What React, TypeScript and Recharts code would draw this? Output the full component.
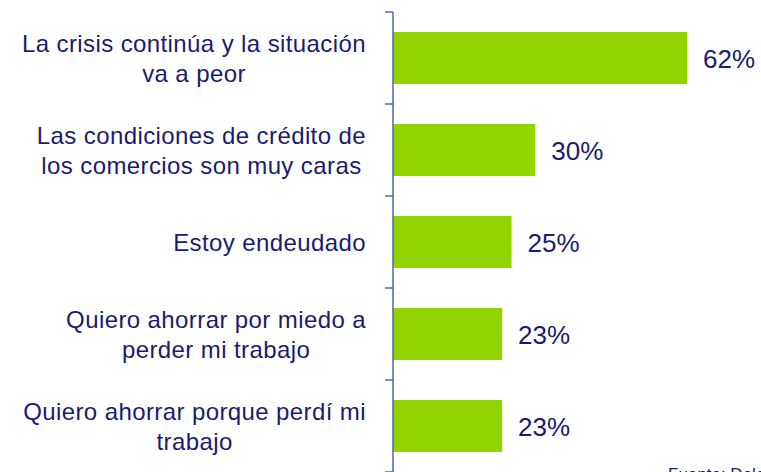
import React from "react";
import { BarChart, Bar, XAxis, YAxis, LabelList } from "recharts";

const categories = [
  "La crisis continúa y la situación\nva a peor",
  "Las condiciones de crédito de\nlos comercios son muy caras",
  "Estoy endeudado",
  "Quiero ahorrar por miedo a\nperder mi trabajo",
  "Quiero ahorrar porque perdí mi\ntrabajo",
];
const values = [62, 30, 25, 23, 23];
const valueLabels = ["62%", "30%", "25%", "23%", "23%"];
const sourceText = "Fuente: Deloitte";

const data = categories.map((c, i) => ({ name: c, value: values[i], label: valueLabels[i] }));

const TEXT = "#1b1b70";
const GREEN = "#92d400";
const AXIS = "#4e67a6";
const FONT = "Liberation Sans, Arial, sans-serif";
const LABEL_SIZE = 24;
const LSP = 0.4;

let ctx: CanvasRenderingContext2D | null = null;
function measure(s: string): number {
  if (!ctx) {
    const c = document.createElement("canvas");
    ctx = c.getContext("2d");
  }
  if (!ctx) return s.length * 12;
  ctx.font = `${LABEL_SIZE}px "Liberation Sans"`;
  return ctx.measureText(s).width + s.length * LSP;
}

const CatTick = (props: any) => {
  const { x, y, payload, index, visibleTicksCount } = props;
  const lines: string[] = String(payload.value).split("\n");
  const maxW = Math.max(...lines.map(measure));
  const right = x - 27;
  const cx = right - maxW / 2;
  const half = 46;
  return (
    <g>
      <line x1={x - 8} x2={x} y1={y - half} y2={y - half} stroke={AXIS} strokeWidth={1.5} />
      {index === (visibleTicksCount ?? 5) - 1 && (
        <line x1={x - 8} x2={x} y1={y + half} y2={y + half} stroke={AXIS} strokeWidth={1.5} />
      )}
      {lines.map((l, i) => (
        <text
          key={i}
          x={cx}
          y={y + (i - (lines.length - 1) / 2) * 30 + 8.5}
          textAnchor="middle"
          fill={TEXT}
          fontSize={LABEL_SIZE}
          fontFamily={FONT}
          style={{ letterSpacing: `${LSP}px` }}
        >
          {l}
        </text>
      ))}
    </g>
  );
};

const ValueLabel = (props: any) => {
  const { x, y, width, height, value } = props;
  return (
    <text
      x={x + width + 16}
      y={y + height / 2 + 10}
      fill={TEXT}
      fontSize={26}
      fontFamily={FONT}
    >
      {value}
    </text>
  );
};

export default function App() {
  return (
    <div style={{ position: "absolute", left: 0, top: 0, width: 761, height: 472, overflow: "hidden", background: "#fff" }}>
      <BarChart
        width={761}
        height={472}
        data={data}
        layout="vertical"
        margin={{ top: 12, right: 36, bottom: 0, left: 0 }}
        barSize={52}
      >
        <XAxis type="number" domain={[0, 70]} hide />
        <YAxis
          type="category"
          dataKey="name"
          width={393}
          axisLine={{ stroke: AXIS, strokeWidth: 1.5 }}
          tickLine={false}
          tickSize={0}
          tickMargin={0}
          tick={<CatTick />}
          interval={0}
        />
        <Bar dataKey="value" fill={GREEN} isAnimationActive={false}>
          <LabelList dataKey="label" content={<ValueLabel />} />
        </Bar>
      </BarChart>
      <div
        style={{
          position: "absolute",
          left: 668,
          top: 465,
          fontFamily: FONT,
          fontSize: 17,
          color: TEXT,
          whiteSpace: "nowrap",
          lineHeight: "20px",
        }}
      >
        {sourceText}
      </div>
    </div>
  );
}
